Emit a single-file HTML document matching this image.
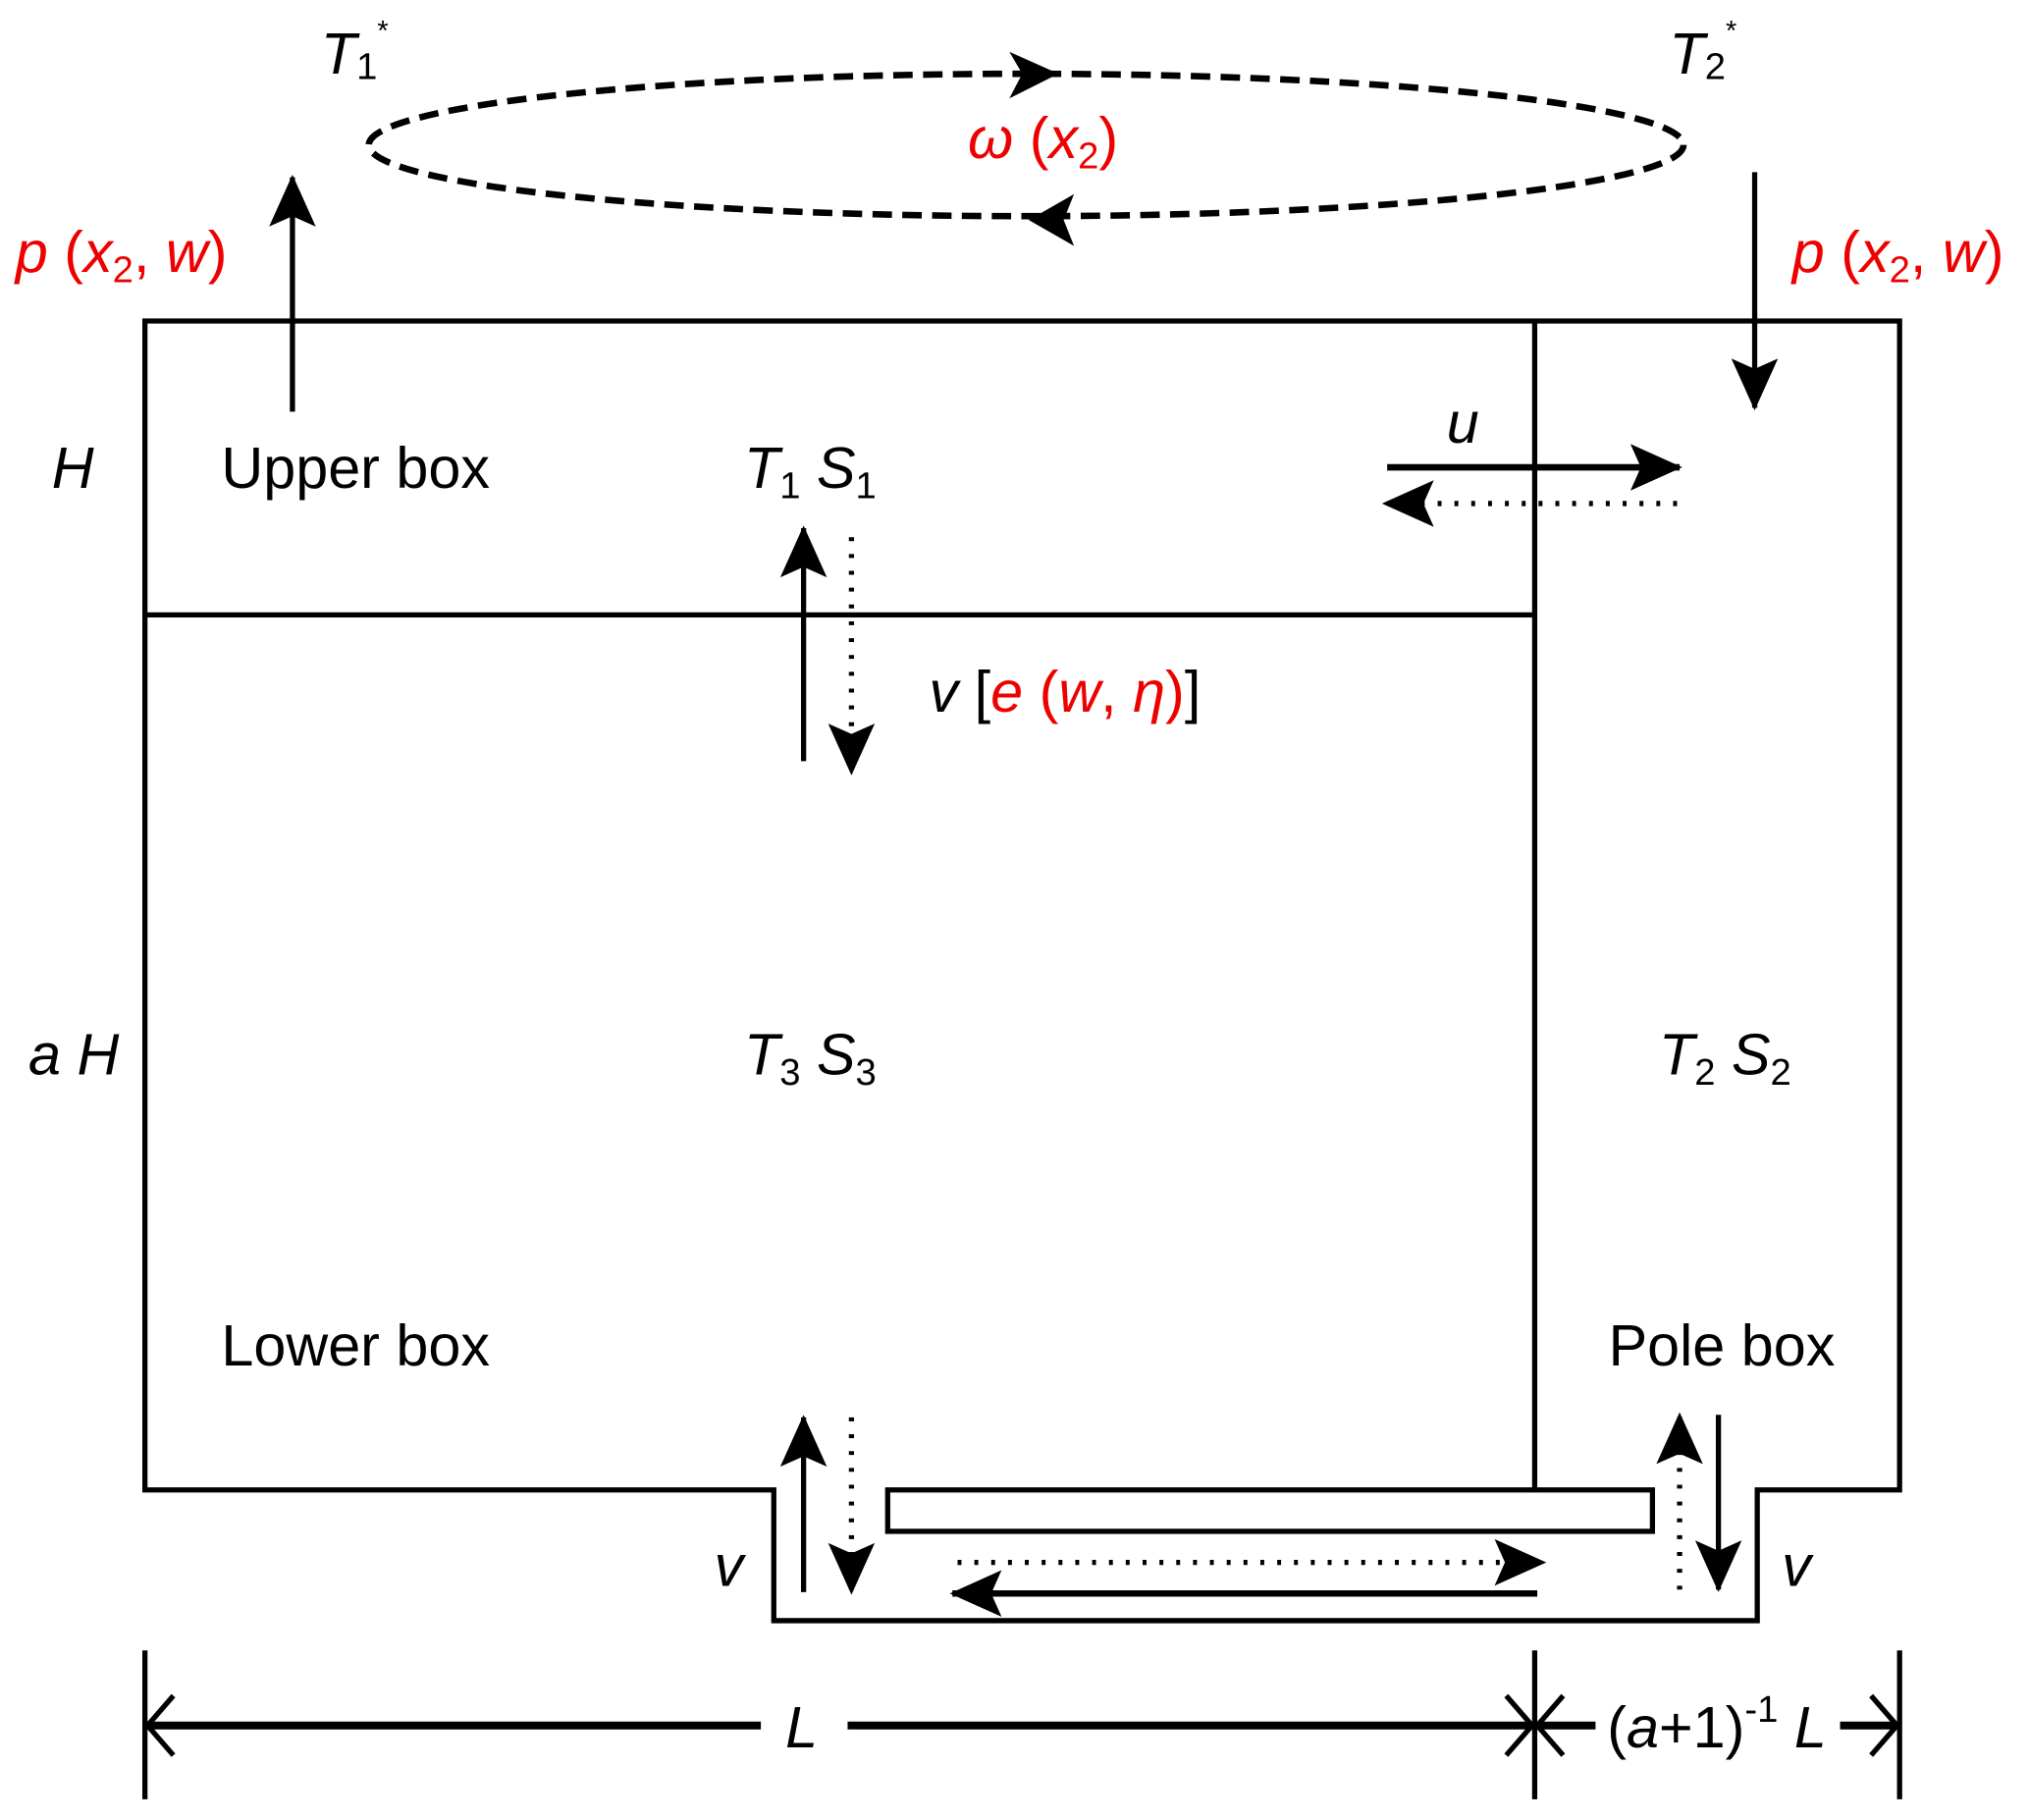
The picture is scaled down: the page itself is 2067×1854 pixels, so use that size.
<!DOCTYPE html>
<html><head><style>html,body{margin:0;padding:0;background:#fff}svg{display:block}</style></head><body>
<svg width="2067" height="1854" viewBox="0 0 1568 1406" preserveAspectRatio="none" xmlns="http://www.w3.org/2000/svg" font-family="Liberation Sans, sans-serif">
<defs>
<marker id="ahl" viewBox="0 0 40 36" refX="38" refY="18" markerWidth="40" markerHeight="36" markerUnits="userSpaceOnUse" orient="auto"><path d="M0,0 L40,18 L0,36 L8,18 Z" fill="#000"/></marker>
</defs>
<g stroke="#000" fill="none" stroke-width="4">
<path d="M112,248 H1468 V1151 H1358 V1252 H598 V1151 H112 Z"/>
<line x1="1186" y1="248" x2="1186" y2="1151"/>
<line x1="112" y1="475" x2="1186" y2="475"/>
<rect x="686" y="1151" width="591" height="32"/>
<ellipse cx="793" cy="112" rx="508" ry="55" stroke-dasharray="15,8" stroke-width="5"/>
</g>
<path d="M780,40 L818,57 L780,76 L790,57 Z" fill="#000"/>
<path d="M830,150 L795,170 L830,190 L822,170 Z" fill="#000"/>
<g stroke="#000" stroke-width="4" fill="none">
<line x1="226" y1="318" x2="226" y2="137" marker-end="url(#ahl)"/>
<line x1="1356" y1="133" x2="1356" y2="315" marker-end="url(#ahl)"/>
<line x1="1072" y1="361" x2="1298" y2="361" marker-end="url(#ahl)" stroke-width="5"/>
<line x1="1296" y1="389" x2="1070" y2="389" marker-end="url(#ahl)" stroke-dasharray="3,10"/>
<line x1="621" y1="588" x2="621" y2="408" marker-end="url(#ahl)"/>
<line x1="658" y1="415" x2="658" y2="597" marker-end="url(#ahl)" stroke-dasharray="3,10"/>
<line x1="621" y1="1230" x2="621" y2="1095" marker-end="url(#ahl)"/>
<line x1="658" y1="1095" x2="658" y2="1230" marker-end="url(#ahl)" stroke-dasharray="3,10"/>
<line x1="1298" y1="1228" x2="1298" y2="1093" marker-end="url(#ahl)" stroke-dasharray="3,10"/>
<line x1="1328" y1="1093" x2="1328" y2="1228" marker-end="url(#ahl)"/>
<line x1="740" y1="1207" x2="1193" y2="1207" marker-end="url(#ahl)" stroke-dasharray="3,10"/>
<line x1="1188" y1="1231" x2="736" y2="1231" marker-end="url(#ahl)" stroke-width="5"/>
<line x1="112" y1="1275" x2="112" y2="1390"/>
<line x1="1186" y1="1275" x2="1186" y2="1390"/>
<line x1="1468" y1="1275" x2="1468" y2="1390"/>
<g stroke-width="6">
<line x1="114" y1="1333" x2="588" y2="1333"/>
<line x1="655" y1="1333" x2="1186" y2="1333"/>
<line x1="1186" y1="1333" x2="1233" y2="1333"/>
<line x1="1422" y1="1333" x2="1466" y2="1333"/>
</g>
<path d="M134,1310 L114,1333 L134,1356" stroke-width="4"/>
<path d="M1164,1310 L1184,1333 L1164,1356 M1208,1310 L1188,1333 L1208,1356" stroke-width="4"/>
<path d="M1446,1310 L1466,1333 L1446,1356" stroke-width="4"/>
</g>
<g font-size="45" fill="#000">
<text x="171" y="377">Upper box</text>
<text x="171" y="1055">Lower box</text>
<text x="1243" y="1055">Pole box</text>
<text x="40" y="377" font-style="italic">H</text>
<text x="22" y="830" font-style="italic">a H</text>
<text x="575" y="377" font-style="italic">T<tspan font-size="29" dy="8" font-style="normal">1</tspan><tspan dy="-8"> S</tspan><tspan font-size="29" dy="8" font-style="normal">1</tspan></text>
<text x="575" y="830" font-style="italic">T<tspan font-size="29" dy="8" font-style="normal">3</tspan><tspan dy="-8"> S</tspan><tspan font-size="29" dy="8" font-style="normal">3</tspan></text>
<text x="1282" y="830" font-style="italic">T<tspan font-size="29" dy="8" font-style="normal">2</tspan><tspan dy="-8"> S</tspan><tspan font-size="29" dy="8" font-style="normal">2</tspan></text>
<text x="248" y="57" font-style="italic">T<tspan font-size="29" dy="4" font-style="normal">1</tspan><tspan font-size="22" dy="-30" font-style="normal">*</tspan></text>
<text x="1290" y="57" font-style="italic">T<tspan font-size="29" dy="4" font-style="normal">2</tspan><tspan font-size="22" dy="-30" font-style="normal">*</tspan></text>
<text x="1118" y="342" font-style="italic">u</text>
<text x="552" y="1225" font-style="italic">v</text>
<text x="1377" y="1225" font-style="italic">v</text>
<text x="718" y="550"><tspan font-style="italic">v</tspan> [<tspan fill="#e00" font-style="italic">e</tspan><tspan fill="#e00"> (</tspan><tspan fill="#e00" font-style="italic">w</tspan><tspan fill="#e00">, </tspan><tspan fill="#e00" font-style="italic">η</tspan><tspan fill="#e00">)</tspan>]</text>
<text x="607" y="1350" font-style="italic">L</text>
<text x="1242" y="1350">(<tspan font-style="italic">a</tspan>+1)<tspan font-size="29" dy="-20">-1</tspan><tspan dy="20" font-style="italic"> L</tspan></text>
</g>
<g font-size="45" fill="#e00">
<text x="748" y="122"><tspan font-style="italic">ω</tspan> (<tspan font-style="italic">x</tspan><tspan font-size="29" dy="8">2</tspan><tspan dy="-8">)</tspan></text>
<text x="12" y="210"><tspan font-style="italic">p</tspan> (<tspan font-style="italic">x</tspan><tspan font-size="29" dy="8">2</tspan><tspan dy="-8">, </tspan><tspan font-style="italic">w</tspan>)</text>
<text x="1385" y="210"><tspan font-style="italic">p</tspan> (<tspan font-style="italic">x</tspan><tspan font-size="29" dy="8">2</tspan><tspan dy="-8">, </tspan><tspan font-style="italic">w</tspan>)</text>
</g>
</svg>
</body></html>
